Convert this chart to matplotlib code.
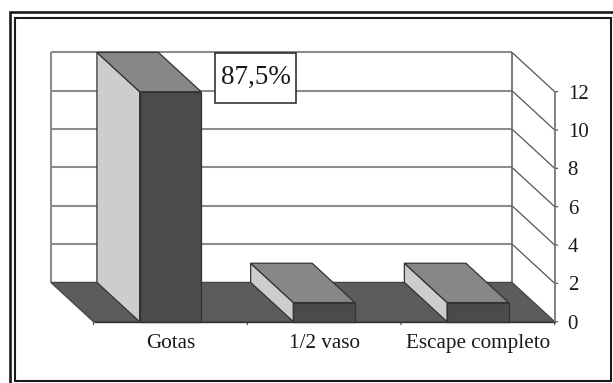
import matplotlib
matplotlib.use('Agg')
import matplotlib.pyplot as plt
from matplotlib.patches import Polygon, Rectangle

plt.rcParams['font.family'] = 'Liberation Serif'

# datos
categorias = ['Gotas', '1/2 vaso', 'Escape completo']
valores = [12, 1, 1]
ticks_y = [0, 2, 4, 6, 8, 10, 12]
etiqueta = '87,5%'

W, H = 613, 383
fig = plt.figure(figsize=(W / 100, H / 100), dpi=100, facecolor='white')

# ejes: solo dan la escala, el dibujo 3D se hace a mano encima
x0, x1, y0, y1 = 93.5, 554.7, 321.7, 91.7
ax = fig.add_axes([x0 / W, 1 - y0 / H, (x1 - x0) / W, (y0 - y1) / H])
ax.set_xlim(0, 3)
ax.set_ylim(0, 12)
ax.axis('off')

# profundidad del grafico en unidades de datos
prof_x = -42.7 / ((x1 - x0) / 3)
prof_y = 39.3 / ((y0 - y1) / 12)


def poly(puntos, color, borde='#333333', lw=0.9, z=2):
    ax.add_patch(Polygon(puntos, closed=True, facecolor=color, edgecolor=borde,
                         linewidth=lw, zorder=z, clip_on=False))


def linea(xs, ys, color='#8c8c8c', lw=1.5, z=1):
    ax.plot(xs, ys, color=color, lw=lw, zorder=z, clip_on=False, solid_capstyle='butt')


def marca(x, y, dx, dy):
    ax.annotate('', xy=(x, y), xytext=(dx, dy), textcoords='offset pixels',
                arrowprops=dict(arrowstyle='-', color='#555555', lw=0.9, shrinkA=0, shrinkB=0))


# rejilla: pared del fondo y pared derecha
for t in ticks_y[1:]:
    linea([prof_x, 3 + prof_x], [t + prof_y, t + prof_y])
for t in ticks_y[1:]:
    linea([3 + prof_x, 3], [t + prof_y, t], color='#555555', lw=0.9)
linea([prof_x, prof_x], [prof_y, 12 + prof_y])
linea([3 + prof_x, 3 + prof_x], [prof_y, 12 + prof_y], color='#666666', lw=1.2)

# piso
poly([(0, 0), (3, 0), (3 + prof_x, prof_y), (prof_x, prof_y)], '#5c5c5c', borde='#444444')

# barras
for i, v in enumerate(valores):
    a = i + 0.3
    b = i + 0.7
    z = 3 + i
    poly([(a, 0), (a, v), (a + prof_x, v + prof_y), (a + prof_x, prof_y)], '#cdcdcd', z=z)
    poly([(a, v), (b, v), (b + prof_x, v + prof_y), (a + prof_x, v + prof_y)], '#878787', z=z)
    poly([(a, 0), (b, 0), (b, v), (a, v)], '#4b4b4b', z=z)

# eje x con marcas
linea([0, 3], [0, 0], color='#333333', lw=1.0, z=8)
for i in range(4):
    marca(i, 0, 0, -3)

# eje y a la derecha
linea([3, 3], [0, 12], color='#777777', lw=1.3, z=8)
for t in ticks_y:
    marca(3, t, 3, 0)
    ax.annotate(str(t), xy=(3, t), xytext=(13, 0), textcoords='offset pixels',
                va='center_baseline', ha='left', fontsize=15, color='#1a1a1a')

# nombres de categorias
for i, c in enumerate(categorias):
    ax.annotate(c, xy=(i + 0.5, 0), xytext=(0.5, -22), textcoords='offset pixels',
                ha='center', va='center', fontsize=15.2, color='#1a1a1a')

# recuadro del porcentaje
bx0, by0, bx1, by1 = 215.3, 52.7, 295.7, 102.7
fig.add_artist(Rectangle((bx0 / W, 1 - by1 / H), (bx1 - bx0) / W, (by1 - by0) / H,
                         transform=fig.transFigure, facecolor='white', edgecolor='#222222',
                         linewidth=1.1, zorder=10))
fig.text((bx0 + bx1) / 2 / W, 1 - (by0 + by1 - 1) / 2 / H, etiqueta, ha='center', va='center',
         fontsize=19.5, color='#1a1a1a', zorder=11)

# marco doble
fig.add_artist(Rectangle((10.3 / W, -5 / H), 620 / W, (383 - 12.3 + 5) / H, transform=fig.transFigure,
                         fill=False, edgecolor='#1a1a1a', linewidth=1.9, zorder=12))
fig.add_artist(Rectangle((15 / W, 1 - 381 / H), (610.5 - 15) / W, (381 - 17.5) / H,
                         transform=fig.transFigure, fill=False, edgecolor='#1a1a1a',
                         linewidth=1.5, zorder=12))

plt.savefig('out.png', dpi=100)
